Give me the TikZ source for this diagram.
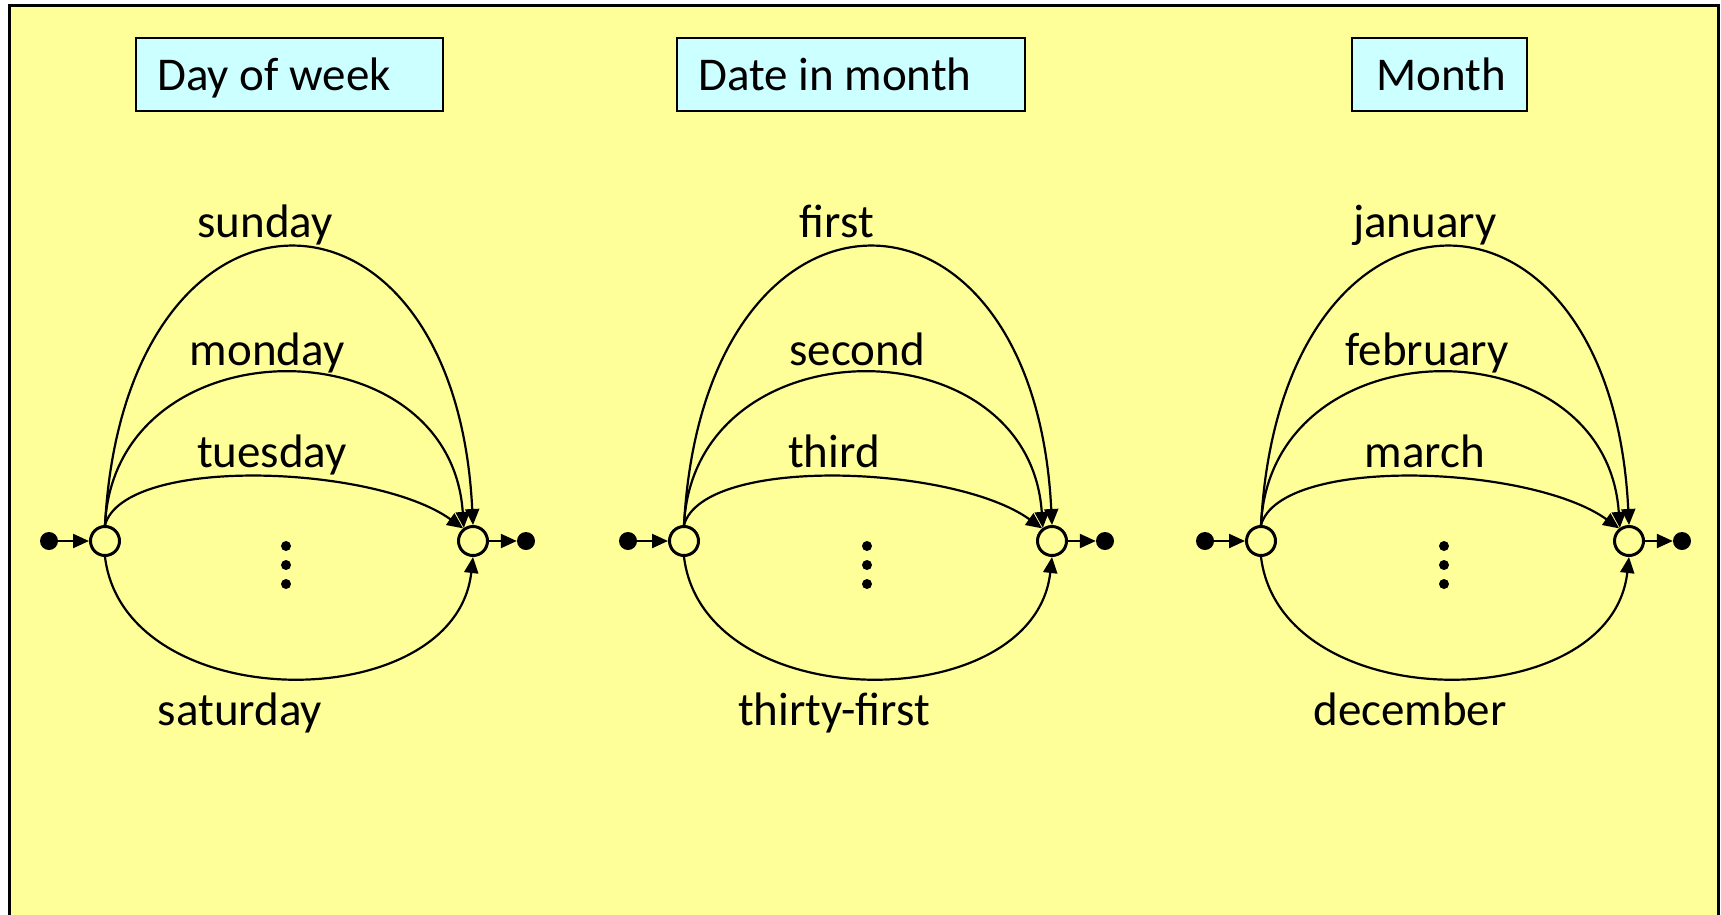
\documentclass[tikz,border=0pt]{standalone}
\usepackage{fontspec}
\setmainfont{Carlito}
\usetikzlibrary{arrows.meta}
\definecolor{bgyellow}{HTML}{FFFF99}
\definecolor{boxcyan}{HTML}{CCFFFF}
\begin{document}
\begin{tikzpicture}[x=1pt,y=-1pt,
  lbl/.style={font=\fontsize{47}{56}\selectfont, anchor=base, inner sep=0pt},
  ttl/.style={font=\fontsize{47}{56}\selectfont, anchor=base west, inner sep=0pt},
  titlebox/.style={draw=black, fill=boxcyan, line width=2.5pt},
  state/.style={circle, draw, line width=3pt, fill=bgyellow, minimum size=29pt, inner sep=0pt},
  term/.style={circle, fill=black, minimum size=18pt, inner sep=0pt},
  trans/.style={line width=2.2pt, -{Triangle[length=16pt 0 0,width=14pt 0 0]}},
]
\useasboundingbox (0,0) rectangle (1721,914);
\fill[white] (0,0) rectangle (1721,914);
\draw[line width=3pt, fill=bgyellow] (9,5) rectangle (1718,940);

% title boxes
\draw[titlebox] (136,38) rectangle (443,111);
\node[ttl] (t1) at (157,90) {Day of week};
\draw[titlebox] (677,38) rectangle (1025,111);
\node[ttl] (t2) at (698,90) {Date in month};
\draw[titlebox] (1352,38) rectangle (1527,111);
\node[ttl] (t3) at (1376,90) {Month};

\foreach \g/\lx/\dx/\ta/\xa/\tb/\xb/\tc/\xc/\td/\xd in {
  1/105/181/sunday/160/monday/162/tuesday/167/saturday/135,
  2/684/183/first/153/second/173/third/150/thirty-first/150,
  3/1261/183/january/164/february/166/march/164/december/149}{
  \begin{scope}[shift={(\lx,541)}]
    \node[state] (L\g) at (0,0) {};
    \node[state] (R\g) at (368,0) {};
    \node[term] (S\g) at (-56,0) {};
    \node[term] (E\g) at (421,0) {};
    \draw[trans] (S\g) -- (L\g);
    \draw[trans] (R\g) -- (E\g);
    \draw[trans] (L\g.north) .. controls (20,-386) and (350,-386) .. (R\g.north);
    \draw[trans] (L\g.north) .. controls (10,-219) and (345,-219) .. (R\g.125);
    \draw[trans] (L\g.north) .. controls (20,-86) and (270,-76) .. (R\g.128);
    \draw[trans] (L\g.south) .. controls (20,177) and (350,177) .. (R\g.south);
    \node[lbl] (a\g) at (\xa,-304) {\ta};
    \node[lbl] (b\g) at (\xb,-176) {\tb};
    \node[lbl] (c\g) at (\xc,-74) {\tc};
    \node[lbl] (d\g) at (\xd,184) {\td};
    \fill (\dx,5) circle (5);
    \fill (\dx,24) circle (5);
    \fill (\dx,43) circle (5);
  \end{scope}
}
\end{tikzpicture}
\end{document}
